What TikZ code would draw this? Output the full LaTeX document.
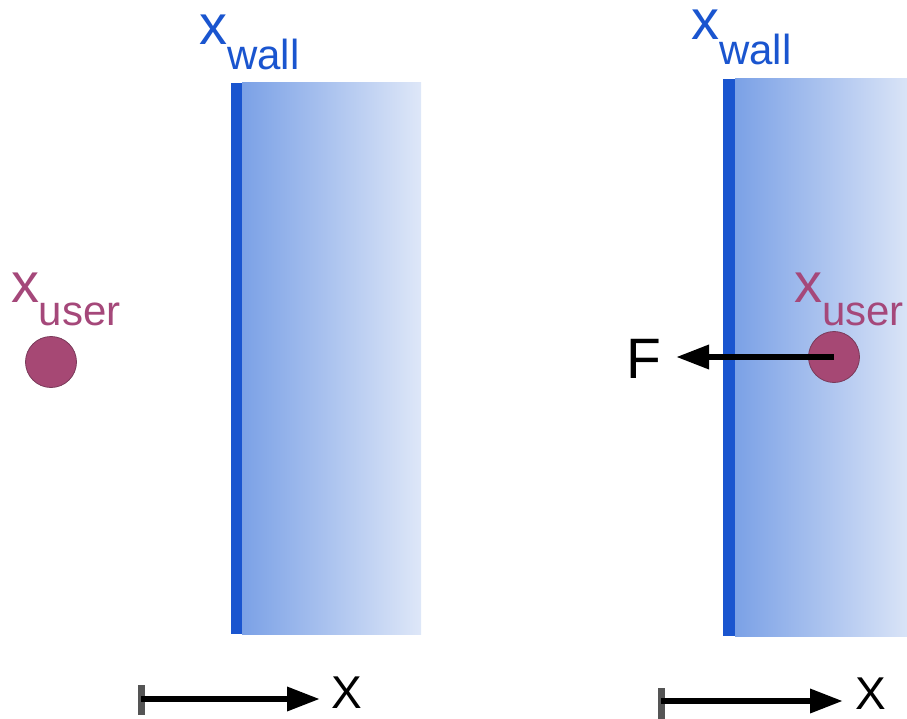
\documentclass[tikz,border=0pt]{standalone}
\usepackage{fontspec}
\setmainfont{Liberation Sans}
\usetikzlibrary{arrows.meta}
\definecolor{wallblue}{HTML}{1A55CF}
\definecolor{gradL}{HTML}{7BA1E6}
\definecolor{gradR}{HTML}{DEE7F8}
\definecolor{userc}{HTML}{A5487A}
\definecolor{ballfill}{HTML}{A64874}
\definecolor{ballline}{HTML}{7A3A5A}
\definecolor{barc}{HTML}{555555}
\tikzset{
  lbl/.style={inner sep=0pt, outer sep=0pt, anchor=base west},
  ball/.style={circle, minimum size=51pt, inner sep=0pt, fill=ballfill, draw=ballline, line width=0.8pt},
  axarrow/.style={line width=6.5pt, -{Triangle[length=33pt,width=23pt]}},
  tick/.style={line width=7pt, draw=barc},
}
\newcommand{\bigf}{\fontsize{56}{56}\selectfont}
\newcommand{\subf}{\fontsize{42}{42}\selectfont}
\newcommand{\axf}{\fontsize{46}{46}\selectfont}
\begin{document}
\begin{tikzpicture}[x=1pt,y=-1pt]
\useasboundingbox (0,0) rectangle (907,719);
% left wall
\shade[left color=gradL, right color=gradR] (242,83) rectangle (421,634);
\fill[wallblue] (231,83) rectangle (242,634);
% right wall
\shade[left color=gradL, right color=gradR!95!gradL] (735,79) rectangle (907,636);
\fill[wallblue] (723,79) rectangle (735,636);
% labels
\node[lbl, text=wallblue] (wallL) at (199,45) {\bigf x\raisebox{-25pt}{\subf wall}};
\node[lbl, text=wallblue] (wallR) at (691,40) {\bigf x\raisebox{-25pt}{\subf wall}};
\node[lbl, text=userc] (userL) at (11,302) {\bigf x\raisebox{-23pt}{\subf user}};
\node[lbl, text=userc] (userR) at (794,302) {\bigf x\raisebox{-23pt}{\subf user}};
% balls
\node[ball] (ballL) at (51,362) {};
\node[ball] (ballR) at (834,357) {};
% force
\node[lbl] (F) at (626,378) {\fontsize{57}{57}\selectfont F};
\coordinate (Fend) at (676,357);
\draw[axarrow] (ballR.center) -- (Fend);
% axes
\coordinate (a1s) at (141,699);
\coordinate (a1e) at (320,699);
\draw[tick] (141,685) -- (141,715);
\draw[axarrow] (a1s) -- (a1e);
\node[lbl] (X1) at (331,708) {\axf X};
\coordinate (a2s) at (661,701);
\coordinate (a2e) at (843,701);
\draw[tick] (661,688) -- (661,719);
\draw[axarrow] (a2s) -- (a2e);
\node[lbl] (X2) at (855,709) {\axf X};
\end{tikzpicture}
\end{document}
